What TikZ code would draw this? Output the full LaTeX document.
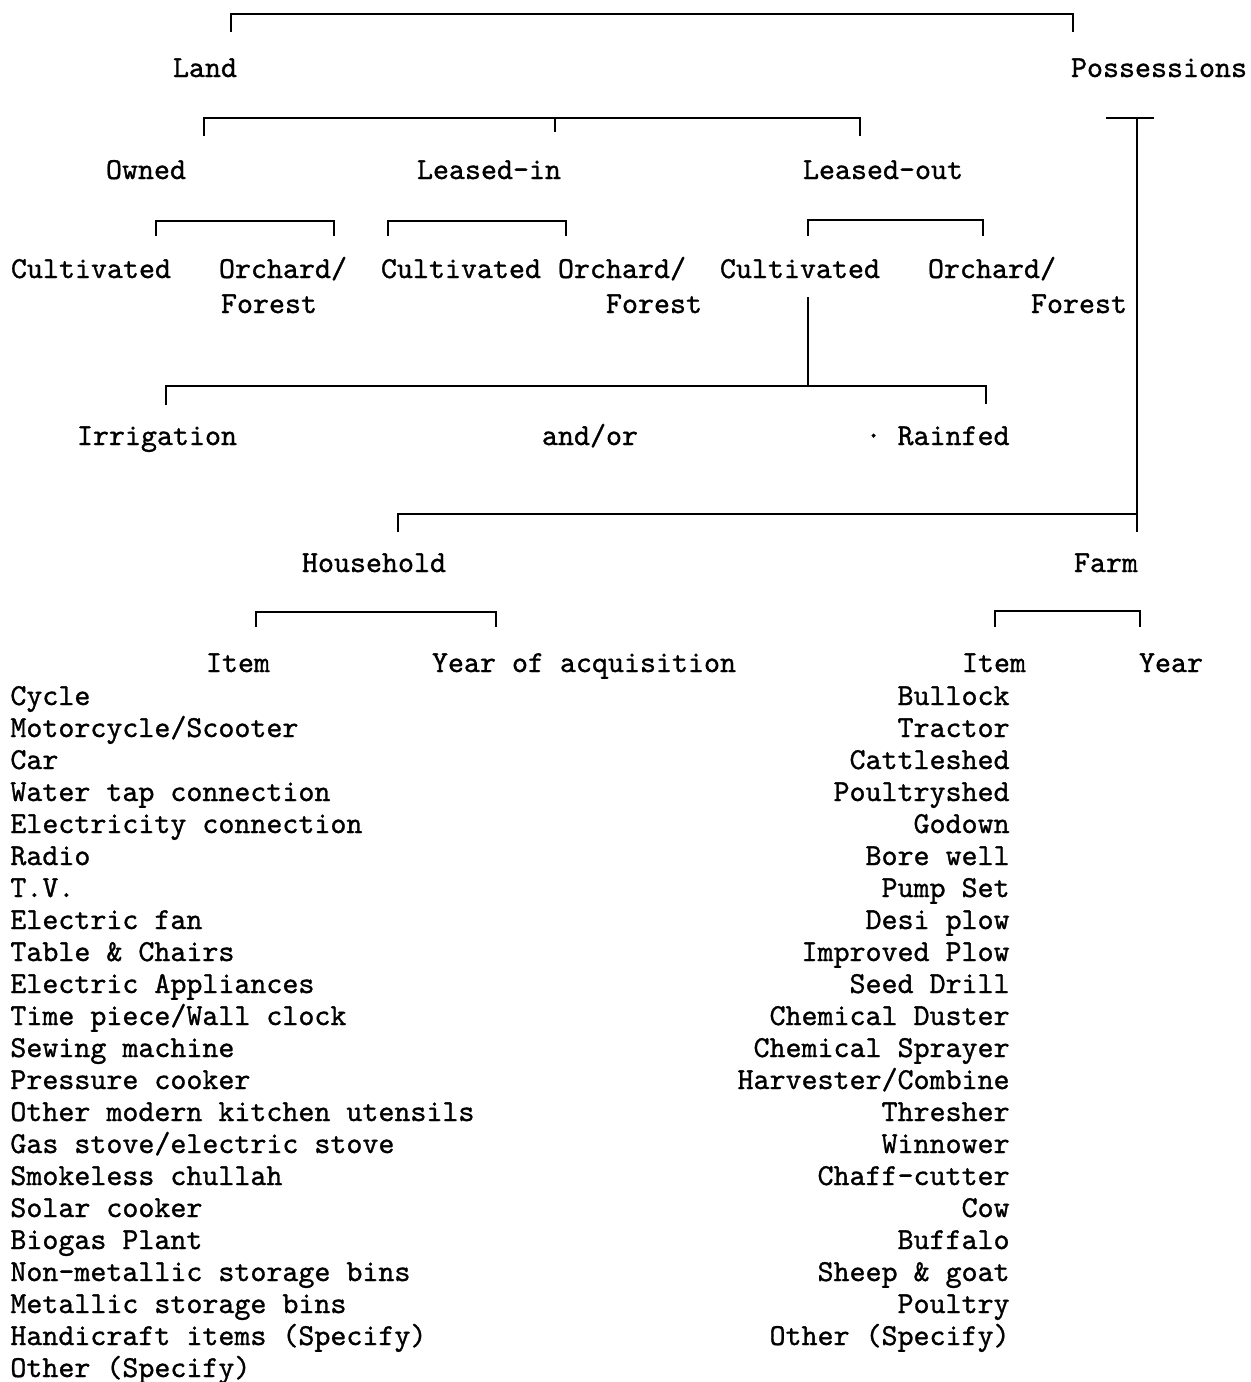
\documentclass[tikz,border=0pt]{standalone}
\usepackage{fontspec}
\newfontfamily\typefont{lmmono10-regular.otf}[FakeBold=1]

\begin{document}
\begin{tikzpicture}[x=0.5pt,y=-0.5pt,
		lbl/.style={inner sep=0pt,anchor=base,font=\typefont\fontsize{15.24pt}{16pt}\selectfont},
		hitem/.style={lbl,anchor=base west},
		fitem/.style={lbl,anchor=base east},
		brk/.style={line width=1.2pt}]
		\useasboundingbox (0,0) rectangle (1250,1382);
		
		% top level
		\node[lbl] (land) at (205,77) {Land};
		\node[lbl] (poss) at (1159,77) {Possessions};
		
		% land tenure
		\node[lbl] (owned) at (146,179) {Owned};
		\node[lbl] (leasin) at (489,179) {Leased-in};
		\node[lbl] (leasout) at (883,179) {Leased-out};
		
		% land use
		\node[lbl] (cultA) at (91,278) {Cultivated};
		\node[lbl] (orchA) at (283,278) {Orchard/};
		\node[lbl] (forA) at (269,313) {Forest};
		\node[lbl] (cultB) at (461,278) {Cultivated};
		\node[lbl] (orchB) at (622,278) {Orchard/};
		\node[lbl] (forB) at (654,313) {Forest};
		\node[lbl] (cultC) at (800,278) {Cultivated};
		\node[lbl] (orchC) at (992,278) {Orchard/};
		\node[lbl] (forC) at (1079,313) {Forest};
		
		% water
		\node[lbl] (irrig) at (157,445) {Irrigation};
		\node[lbl] (andor) at (590,445) {and/or};
		\node[lbl,anchor=base east] (rainf) at (1010,445) {· Rainfed};
		
		% possessions
		\node[lbl] (house) at (374,572) {Household};
		\node[lbl] (farm) at (1106,572) {Farm};
		\node[lbl] (hitm) at (238,672) {Item};
		\node[lbl] (hyear) at (584,672) {Year of acquisition};
		\node[lbl] (fitm) at (994,672) {Item};
		\node[lbl] (fyear) at (1171,672) {Year};
		
		% lists
		\foreach \txt [count=\i from 0] in {Cycle,Motorcycle/Scooter,Car,Water tap connection,
			Electricity connection,Radio,T.V.,Electric fan,Table \& Chairs,Electric Appliances,
			Time piece/Wall clock,Sewing machine,Pressure cooker,Other modern kitchen utensils,
			Gas stove/electric stove,Smokeless chullah,Solar cooker,Biogas Plant,
			Non-metallic storage bins,Metallic storage bins,Handicraft items (Specify),Other (Specify)}
		\node[hitem] (hh\i) at (10,705+32*\i) {\txt};
		
		\foreach \txt [count=\i from 0] in {Bullock,Tractor,Cattleshed,Poultryshed,Godown,Bore well,
			Pump Set,Desi plow,Improved Plow,Seed Drill,Chemical Duster,Chemical Sprayer,
			Harvester/Combine,Thresher,Winnower,Chaff-cutter,Cow,Buffalo,Sheep \& goat,Poultry,
			Other (Specify)}
		\node[fitem] (fm\i) at (1010,705+32*\i) {\txt};
		
		% bracket ends
		\coordinate (topL) at (231,32);
		\coordinate (topR) at (1073,32);
		\coordinate (ownT) at (204,136);
		\coordinate (linT) at (555,132);
		\coordinate (loutT) at (860,136);
		\coordinate (possL) at (1106,118);
		\coordinate (possR) at (1154,118);
		\coordinate (farmT) at (1137,532);
		\coordinate (hhT) at (398,532);
		\coordinate (oaL) at (156,236);
		\coordinate (oaR) at (334,236);
		\coordinate (obL) at (388,236);
		\coordinate (obR) at (566,236);
		\coordinate (ocL) at (808,236);
		\coordinate (ocR) at (983,236);
		\coordinate (cultS) at (808,297);
		\coordinate (irrT) at (166,405);
		\coordinate (rainT) at (986,404);
		\coordinate (hiL) at (256,627);
		\coordinate (hiR) at (496,627);
		\coordinate (fiL) at (995,627);
		\coordinate (fiR) at (1140,627);
		
		% brackets
		\draw[brk] (topL) -- ++(0,-18) -| (topR);
		\draw[brk] (ownT) -- ++(0,-18) -| (loutT);
		\draw[brk] (linT) -- ++(0,-14);
		\draw[brk] (possL) -- (possR);
		\draw[brk] (farmT) -- (farmT |- possL);
		\draw[brk] (hhT) -- ++(0,-18) -| (farmT);
		\draw[brk] (oaL) -- ++(0,-15) -| (oaR);
		\draw[brk] (obL) -- ++(0,-15) -| (obR);
		\draw[brk] (ocL) -- ++(0,-16) -| (ocR);
		\draw[brk] (cultS) -- ++(0,90);
		\draw[brk] (irrT) -- ++(0,-19) -| (rainT);
		\draw[brk] (hiL) -- ++(0,-15) -| (hiR);
		\draw[brk] (fiL) -- ++(0,-16) -| (fiR);
		
	\end{tikzpicture}
\end{document}
